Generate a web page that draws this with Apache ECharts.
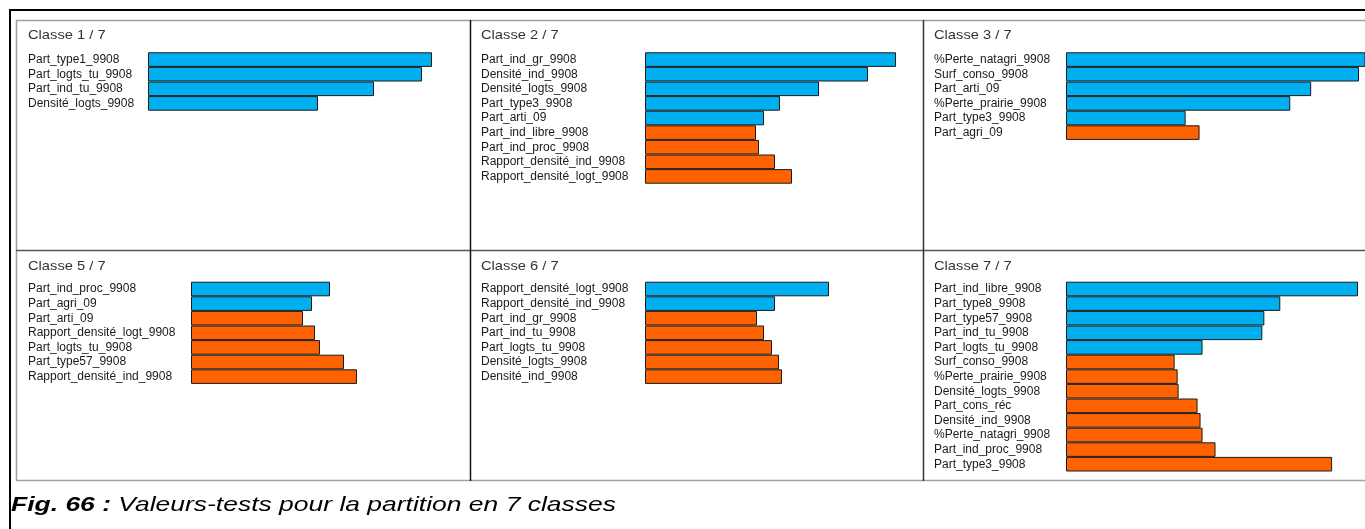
<!DOCTYPE html>
<html>
<head>
<meta charset="utf-8">
<script src="https://cdn.jsdelivr.net/npm/echarts@6/dist/echarts.min.js"></script>
<style>
html,body{margin:0;padding:0;background:#fff;}
#chart{width:1365px;height:529px;}
</style>
</head>
<body>
<div id="chart"></div>
<script>
// ---- data (relative test-value lengths; sign: + = over-represented (blue), - = under-represented (orange)) ----
const panelTitles = ['Classe 1 / 7', 'Classe 2 / 7', 'Classe 3 / 7', 'Classe 5 / 7', 'Classe 6 / 7', 'Classe 7 / 7'];

const c1Labels = ['Part_type1_9908', 'Part_logts_tu_9908', 'Part_ind_tu_9908', 'Densité_logts_9908'];
const c1Values = [284, 274, 226, 170];

const c2Labels = ['Part_ind_gr_9908', 'Densité_ind_9908', 'Densité_logts_9908', 'Part_type3_9908', 'Part_arti_09',
  'Part_ind_libre_9908', 'Part_ind_proc_9908', 'Rapport_densité_ind_9908', 'Rapport_densité_logt_9908'];
const c2Values = [251, 223, 174, 135, 119, -111, -114, -130, -147];

const c3Labels = ['%Perte_natagri_9908', 'Surf_conso_9908', 'Part_arti_09', '%Perte_prairie_9908', 'Part_type3_9908', 'Part_agri_09'];
const c3Values = [305, 294, 246, 225, 120, -134];

const c5Labels = ['Part_ind_proc_9908', 'Part_agri_09', 'Part_arti_09', 'Rapport_densité_logt_9908', 'Part_logts_tu_9908',
  'Part_type57_9908', 'Rapport_densité_ind_9908'];
const c5Values = [139, 121, -112, -124, -129, -153, -166];

const c6Labels = ['Rapport_densité_logt_9908', 'Rapport_densité_ind_9908', 'Part_ind_gr_9908', 'Part_ind_tu_9908',
  'Part_logts_tu_9908', 'Densité_logts_9908', 'Densité_ind_9908'];
const c6Values = [184, 130, -112, -119, -127, -134, -137];

const c7Labels = ['Part_ind_libre_9908', 'Part_type8_9908', 'Part_type57_9908', 'Part_ind_tu_9908', 'Part_logts_tu_9908',
  'Surf_conso_9908', '%Perte_prairie_9908', 'Densité_logts_9908', 'Part_cons_réc', 'Densité_ind_9908',
  '%Perte_natagri_9908', 'Part_ind_proc_9908', 'Part_type3_9908'];
const c7Values = [293, 215, 199, 197, 137, -109, -112, -113, -132, -135, -137, -150, -267];

const captionBold = 'Fig. 66 :';
const captionText = 'Valeurs-tests pour la partition en 7 classes';

// ---- layout ----
const BLUE = '#00aff0';
const ORANGE = '#ff6200';
const FONT = '"Liberation Sans", Arial, sans-serif';
const ROW_H = 14.6;
const AXIS_MAX = 300;

const panels = [
  { labels: c1Labels, values: c1Values, barX: 148, labelX: 28, top: 52.3, titleY: 35 },
  { labels: c2Labels, values: c2Values, barX: 645, labelX: 481, top: 52.3, titleY: 35 },
  { labels: c3Labels, values: c3Values, barX: 1066, labelX: 934, top: 52.3, titleY: 35 },
  { labels: c5Labels, values: c5Values, barX: 191, labelX: 28, top: 281.7, titleY: 266 },
  { labels: c6Labels, values: c6Values, barX: 645, labelX: 481, top: 281.7, titleY: 266 },
  { labels: c7Labels, values: c7Values, barX: 1066, labelX: 934, top: 281.7, titleY: 266 }
];

const grid = [], xAxis = [], yAxis = [], series = [];
const graphic = [
  { type: 'rect', shape: { x: 10, y: 10, width: 1380, height: 540 }, style: { fill: 'none', stroke: '#000', lineWidth: 2 }, silent: true },
  { type: 'rect', shape: { x: 16.5, y: 20.5, width: 1380, height: 460 }, style: { fill: 'none', stroke: '#a0a0a0', lineWidth: 1.5 }, silent: true },
  { type: 'line', shape: { x1: 16, y1: 250.5, x2: 1365, y2: 250.5 }, style: { stroke: '#555', lineWidth: 1.5 }, silent: true },
  { type: 'line', shape: { x1: 470.5, y1: 20, x2: 470.5, y2: 481 }, style: { stroke: '#111', lineWidth: 1.5 }, silent: true },
  { type: 'line', shape: { x1: 923.5, y1: 20, x2: 923.5, y2: 481 }, style: { stroke: '#333', lineWidth: 1.5 }, silent: true }
];

panels.forEach((p, i) => {
  grid.push({ left: p.barX, top: p.top, width: AXIS_MAX, height: p.labels.length * ROW_H, containLabel: false });
  xAxis.push({ type: 'value', gridIndex: i, min: 0, max: AXIS_MAX, show: false });
  yAxis.push({
    type: 'category', gridIndex: i, inverse: true, data: p.labels,
    axisLine: { show: false }, axisTick: { show: false }, splitLine: { show: false },
    axisLabel: { interval: 0, align: 'left', margin: p.barX - p.labelX, fontSize: 12, fontFamily: FONT, color: '#1a1a1a' }
  });
  series.push({
    type: 'bar', xAxisIndex: i, yAxisIndex: i, barCategoryGap: 0, silent: true, animation: false,
    data: p.values.map(v => ({ value: Math.abs(v), itemStyle: { color: v > 0 ? BLUE : ORANGE } })),
    itemStyle: { borderColor: '#1a1a1a', borderWidth: 1 }
  });
  graphic.push({
    type: 'text', x: p.labelX, y: p.titleY, scaleX: 1.13, originX: 0, silent: true,
    style: { text: panelTitles[i], font: '13px ' + FONT, fill: '#333', verticalAlign: 'middle' }
  });
});

graphic.push({
  type: 'text', x: 11, y: 505, scaleX: 1.26, originX: 0, silent: true,
  style: {
    text: '{b|' + captionBold + '} {n|' + captionText + '}',
    verticalAlign: 'middle', fill: '#000',
    rich: {
      b: { fontSize: 21, fontWeight: 'bold', fontStyle: 'italic', fontFamily: FONT, fill: '#000' },
      n: { fontSize: 21, fontStyle: 'italic', fontFamily: FONT, fill: '#000' }
    },
    font: 'italic 21px ' + FONT
  }
});

const chart = echarts.init(document.getElementById('chart'), null, { renderer: 'canvas' });
chart.setOption({ animation: false, backgroundColor: '#fff', grid, xAxis, yAxis, series, graphic });
</script>
</body>
</html>
